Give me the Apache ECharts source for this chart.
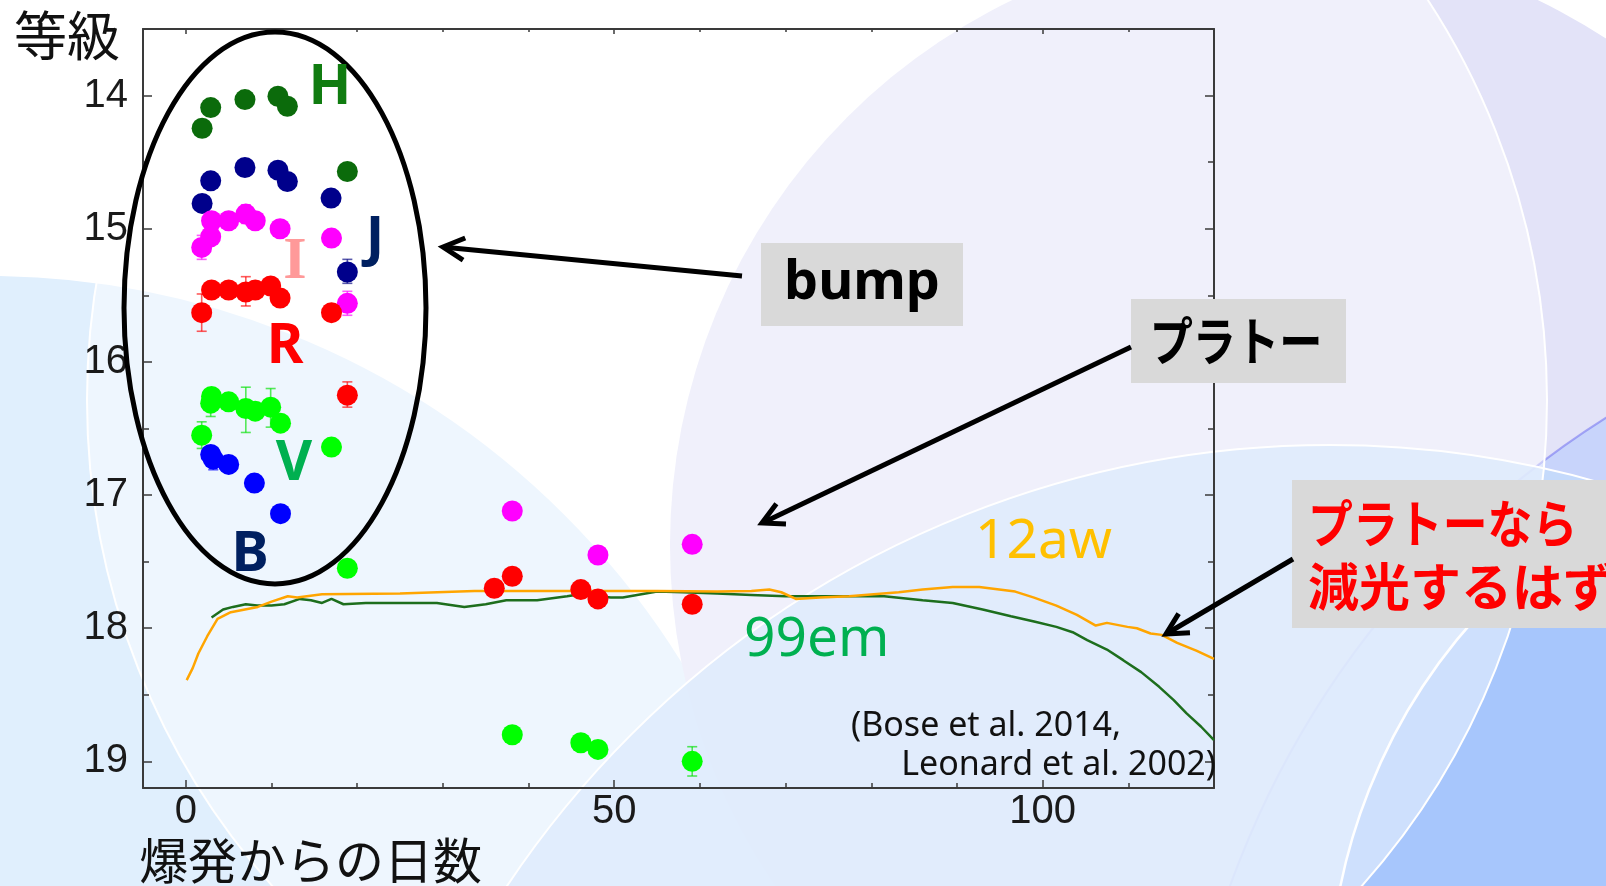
<!DOCTYPE html>
<html>
<head>
<meta charset="utf-8">
<script src="https://cdn.jsdelivr.net/npm/echarts@6/dist/echarts.min.js"></script>
<style>html,body{margin:0;padding:0;background:#fff}#c{width:1606px;height:886px}</style>
</head>
<body>
<div id="c"></div>
<script>
// ---- data ----
const xLabels = [0, 50, 100];
const xMinorTicks = [10, 20, 30, 40, 60, 70, 80, 90, 110];
const yLabels = [14, 15, 16, 17, 18, 19];
const yMinorTicks = [14.5, 15.5, 16.5, 17.5, 18.5];

const bandH = [[1.9,14.245],[2.9,14.09],[6.9,14.03],[10.75,14.005],[11.85,14.08],[18.85,14.57]];
const bandJ = [[1.9,14.81],[2.9,14.64],[6.9,14.54],[10.75,14.56],[11.85,14.645],[16.95,14.77],[18.85,15.325]];
const bandI = [[1.85,15.14],[2.9,15.06],[3.0,14.94],[5.0,14.94],[7.0,14.89],[8.1,14.94],[11.0,15.0],[17.0,15.07],[18.85,15.56],[38.1,17.12],[48.1,17.45],[59.1,17.37]];
const bandR = [[1.85,15.63],[3.0,15.46],[5.0,15.46],[7.0,15.475],[8.1,15.46],[9.9,15.43],[11.0,15.52],[17.0,15.63],[18.85,16.25],[36.0,17.70],[38.1,17.61],[46.1,17.71],[48.1,17.78],[59.1,17.82]];
const bandV = [[1.85,16.55],[2.9,16.31],[3.0,16.26],[5.0,16.30],[7.0,16.35],[8.1,16.37],[9.9,16.34],[11.05,16.46],[17.0,16.64],[18.85,17.55],[38.1,18.80],[46.1,18.86],[48.1,18.91],[59.1,19.0]];
const bandB = [[2.9,16.695],[3.2,16.73],[5.0,16.77],[8.0,16.91],[11.05,17.14]];

// error bars: [day, low, high]
const errI = [[1.85,15.05,15.23],[7.0,14.82,14.96],[18.85,15.47,15.65]];
const errR = [[1.85,15.49,15.77],[7.0,15.36,15.58],[18.85,16.15,16.34]];
const errV = [[1.85,16.45,16.65],[2.9,16.21,16.41],[7.0,16.19,16.53],[9.9,16.20,16.49],[59.1,18.89,19.11]];
const errJ = [[18.85,15.23,15.41]];
const errB = [[3.2,16.65,16.81]];

const sn99em = [[3.0,17.92],[4.35,17.86],[5.5,17.84],[7.0,17.82],[8.3,17.83],[10,17.83],[11.5,17.82],[13.3,17.78],[14.6,17.79],[15.9,17.81],[17.0,17.78],[18.4,17.82],[21,17.81],[24.9,17.81],[29.3,17.81],[32.5,17.84],[35,17.82],[37.4,17.79],[41,17.79],[44.5,17.76],[46,17.745],[49.6,17.77],[51,17.77],[55,17.725],[58,17.73],[62,17.74],[66,17.75],[70,17.76],[76,17.76],[81.5,17.76],[86,17.79],[89.5,17.81],[93,17.86],[96.3,17.91],[99,17.95],[101.6,17.99],[103.5,18.03],[105.2,18.09],[107.5,18.16],[109.4,18.24],[111.5,18.33],[113.6,18.44],[115.3,18.54],[116.8,18.64],[118.5,18.74],[120,18.84]];
const sn12aw = [[0.1,18.39],[0.8,18.3],[1.46,18.19],[2.5,18.06],[3.7,17.93],[5.25,17.88],[8.4,17.84],[10,17.8],[11.9,17.76],[13,17.77],[15.9,17.745],[25,17.74],[33.7,17.72],[40,17.72],[47,17.72],[55,17.72],[62,17.725],[66,17.72],[68.1,17.71],[69.5,17.73],[71.2,17.78],[74,17.77],[77.4,17.76],[83.2,17.73],[86,17.71],[89.5,17.69],[92.6,17.69],[96.8,17.725],[99,17.77],[101.6,17.83],[104,17.9],[106.2,17.98],[107.5,17.96],[109.9,17.99],[111,18.0],[112.6,18.04],[113.9,18.05],[115.7,18.11],[118,18.17],[120,18.23]];

// ---- chart ----
const chart = echarts.init(document.getElementById('c'), null, {renderer: 'canvas'});
const AX = '#3a3a3a';
const labelFont = {fontFamily: 'Liberation Sans', fontSize: 40, color: '#1a1a1a'};

function xAx(pos, ticks, len, showLine, labels) {
  return {type: 'value', position: pos, min: -5, max: 120,
    axisLine: {show: showLine, onZero: false, lineStyle: {color: AX, width: 2}},
    axisTick: {show: true, inside: true, length: len, customValues: ticks, lineStyle: {color: AX, width: 1.5}},
    axisLabel: labels ? Object.assign({show: true, customValues: labels, margin: 4}, labelFont) : {show: false},
    splitLine: {show: false}};
}
function yAx(pos, ticks, len, showLine, labels) {
  return {type: 'value', position: pos, inverse: true, min: 13.5, max: 19.2,
    axisLine: {show: showLine, onZero: false, lineStyle: {color: AX, width: 2}},
    axisTick: {show: true, inside: true, length: len, customValues: ticks, lineStyle: {color: AX, width: 1.5}},
    axisLabel: labels ? Object.assign({show: true, customValues: labels, margin: 15}, labelFont) : {show: false},
    splitLine: {show: false}};
}

function scatter(name, data, color) {
  return {name, type: 'scatter', data, symbolSize: 21, z: 5,
    itemStyle: {color, opacity: 1}, xAxisIndex: 0, yAxisIndex: 0};
}
function errSeries(data, color) {
  return {type: 'custom', data, z: 4, xAxisIndex: 0, yAxisIndex: 0,
    encode: {x: 0, y: [1, 2]},
    renderItem: function (params, api) {
      const x = api.value(0);
      const p1 = api.coord([x, api.value(1)]);
      const p2 = api.coord([x, api.value(2)]);
      const w = 5;
      const st = {stroke: color, lineWidth: 1.6, opacity: 0.65};
      return {type: 'group', children: [
        {type: 'line', shape: {x1: p1[0], y1: p1[1], x2: p2[0], y2: p2[1]}, style: st},
        {type: 'line', shape: {x1: p1[0]-w, y1: p1[1], x2: p1[0]+w, y2: p1[1]}, style: st},
        {type: 'line', shape: {x1: p2[0]-w, y1: p2[1], x2: p2[0]+w, y2: p2[1]}, style: st}
      ]};
    }};
}

function arrowEls(x1, y1, x2, y2) {
  const dx = x2 - x1, dy = y2 - y1, L = Math.hypot(dx, dy);
  const bx = -dx / L, by = -dy / L, hl = 24, a = Math.PI / 6.5;
  const c = Math.cos(a), s = Math.sin(a);
  const h1 = [x2 + hl * (bx * c - by * s), y2 + hl * (bx * s + by * c)];
  const h2 = [x2 + hl * (bx * c + by * s), y2 + hl * (-bx * s + by * c)];
  return [
    {type: 'polyline', z: 100, shape: {points: [[x1, y1], [x2 + bx * 2, y2 + by * 2]]}, style: {stroke: '#000', lineWidth: 5, fill: null}},
    {type: 'polyline', z: 100, shape: {points: [h1, [x2, y2], h2]}, style: {stroke: '#000', lineWidth: 5, fill: null, lineJoin: 'miter'}}
  ];
}
function txt(x, y, text, font, fill, align, extra) {
  return Object.assign({type: 'text', z: 100, x, y,
    style: {text, font, fill, textAlign: align || 'left', textVerticalAlign: 'middle'}}, extra || {});
}

const bg = [
  {type: 'circle', z: -20, shape: {cx: -13, cy: 1093, r: 818}, style: {fill: '#e0effd', stroke: '#ffffff', lineWidth: 2}, silent: true},
  {type: 'circle', z: -19, shape: {cx: 1275, cy: 545, r: 605}, style: {fill: '#e3e3f8'}, silent: true},
  {type: 'circle', z: -18, shape: {cx: 2100, cy: 1200, r: 925}, style: {fill: '#c8d4fb', stroke: 'rgba(110,110,240,0.55)', lineWidth: 2}, silent: true},
  {type: 'circle', z: -17, shape: {cx: 1330, cy: 1433, r: 988}, style: {fill: 'rgba(196,218,250,0.85)', stroke: '#ffffff', lineWidth: 2}, silent: true},
  {type: 'circle', z: -16, shape: {cx: 1900, cy: 1000, r: 571}, style: {fill: '#a7c6fc', stroke: '#ffffff', lineWidth: 2.5}, silent: true},
  {type: 'circle', z: -15, shape: {cx: 817, cy: 400, r: 730}, style: {fill: 'rgba(255,255,255,0.45)', stroke: '#ffffff', lineWidth: 2}, silent: true}
];

const ann = [
  {type: 'ellipse', z: 100, shape: {cx: 275, cy: 308, rx: 151, ry: 276}, style: {fill: null, stroke: '#000', lineWidth: 5}},
  txt(14, 36, '等級', '53px "Noto Sans CJK JP"', '#111', 'left'),
  txt(139, 860, '爆発からの日数', '49px "Noto Sans CJK JP"', '#111', 'left'),
  txt(330, 88, 'H', 'bold 56px "Noto Sans"', '#107c10', 'center'),
  txt(375, 240, 'J', 'bold 56px "Noto Sans"', '#002060', 'center'),
  txt(295, 262, 'I', 'bold 60px "Liberation Serif"', '#ff9999', 'center'),
  txt(285, 347, 'R', 'bold 56px "Noto Sans"', '#ff0000', 'center'),
  txt(294, 464, 'V', 'bold 56px "Noto Sans"', '#00b050', 'center'),
  txt(250, 555, 'B', 'bold 56px "Noto Sans"', '#002060', 'center'),
  txt(975, 542, '12aw', '55px "Noto Sans"', '#ffc000', 'left'),
  txt(744, 640, '99em', '55px "Noto Sans"', '#00b050', 'left'),
  txt(851, 726, '(Bose et al. 2014,', '34px "Noto Sans"', '#111', 'left'),
  txt(1216, 765, 'Leonard et al. 2002)', '34px "Noto Sans"', '#111', 'right'),
  {type: 'rect', z: 99, shape: {x: 761, y: 243, width: 202, height: 83}, style: {fill: '#d9d9d9'}},
  txt(862, 284, 'bump', 'bold 54px "Noto Sans"', '#000', 'center'),
  {type: 'rect', z: 99, shape: {x: 1131, y: 299, width: 215, height: 84}, style: {fill: '#d9d9d9'}},
  txt(1236, 341, 'プラトー', 'bold 52px "Noto Sans CJK JP"', '#000', 'center', {scaleX: 0.83, originX: 0, originY: 0}),
  {type: 'rect', z: 99, shape: {x: 1292, y: 480, width: 330, height: 148}, style: {fill: '#d9d9d9'}},
  txt(1308, 524, 'プラトーなら', 'bold 51px "Noto Sans CJK JP"', '#ff0000', 'left', {scaleX: 0.88, originX: 0, originY: 0}),
  txt(1308, 587, '減光するはず', 'bold 51px "Noto Sans CJK JP"', '#ff0000', 'left')
].concat(arrowEls(742, 276, 443, 247), arrowEls(1131, 347, 762, 523), arrowEls(1293, 559, 1166, 634));

chart.setOption({
  animation: false,
  backgroundColor: '#ffffff',
  grid: {left: 143, right: 392, top: 29, bottom: 98, containLabel: false, outerBoundsMode: 'none'},
  xAxis: [
    xAx('bottom', xLabels, 8, true, xLabels),
    xAx('bottom', xMinorTicks, 5, false, null),
    xAx('top', xLabels, 5, true, null),
    xAx('top', xMinorTicks, 3, false, null)
  ],
  yAxis: [
    yAx('left', yLabels, 9, true, yLabels),
    yAx('left', yMinorTicks, 6, false, null),
    yAx('right', yLabels, 9, true, null),
    yAx('right', yMinorTicks, 6, false, null)
  ],
  graphic: {elements: bg.concat(ann)},
  series: [
    {name: '99em', type: 'line', data: sn99em, showSymbol: false, z: 3, lineStyle: {color: '#1d6e1d', width: 2.5}, itemStyle: {color: '#1d6e1d'}},
    {name: '12aw', type: 'line', data: sn12aw, showSymbol: false, z: 3, lineStyle: {color: '#ffa500', width: 2.5}, itemStyle: {color: '#ffa500'}},
    errSeries(errI, '#ff00ff'), errSeries(errR, '#ff0000'), errSeries(errV, '#00e000'),
    errSeries(errJ, '#000080'), errSeries(errB, '#0000ff'),
    scatter('H', bandH, '#0b6b0b'),
    scatter('J', bandJ, '#00008b'),
    scatter('I', bandI, '#ff00ff'),
    scatter('R', bandR, '#ff0000'),
    scatter('V', bandV, '#00ff00'),
    scatter('B', bandB, '#0000ff')
  ]
});
</script>
</body>
</html>
